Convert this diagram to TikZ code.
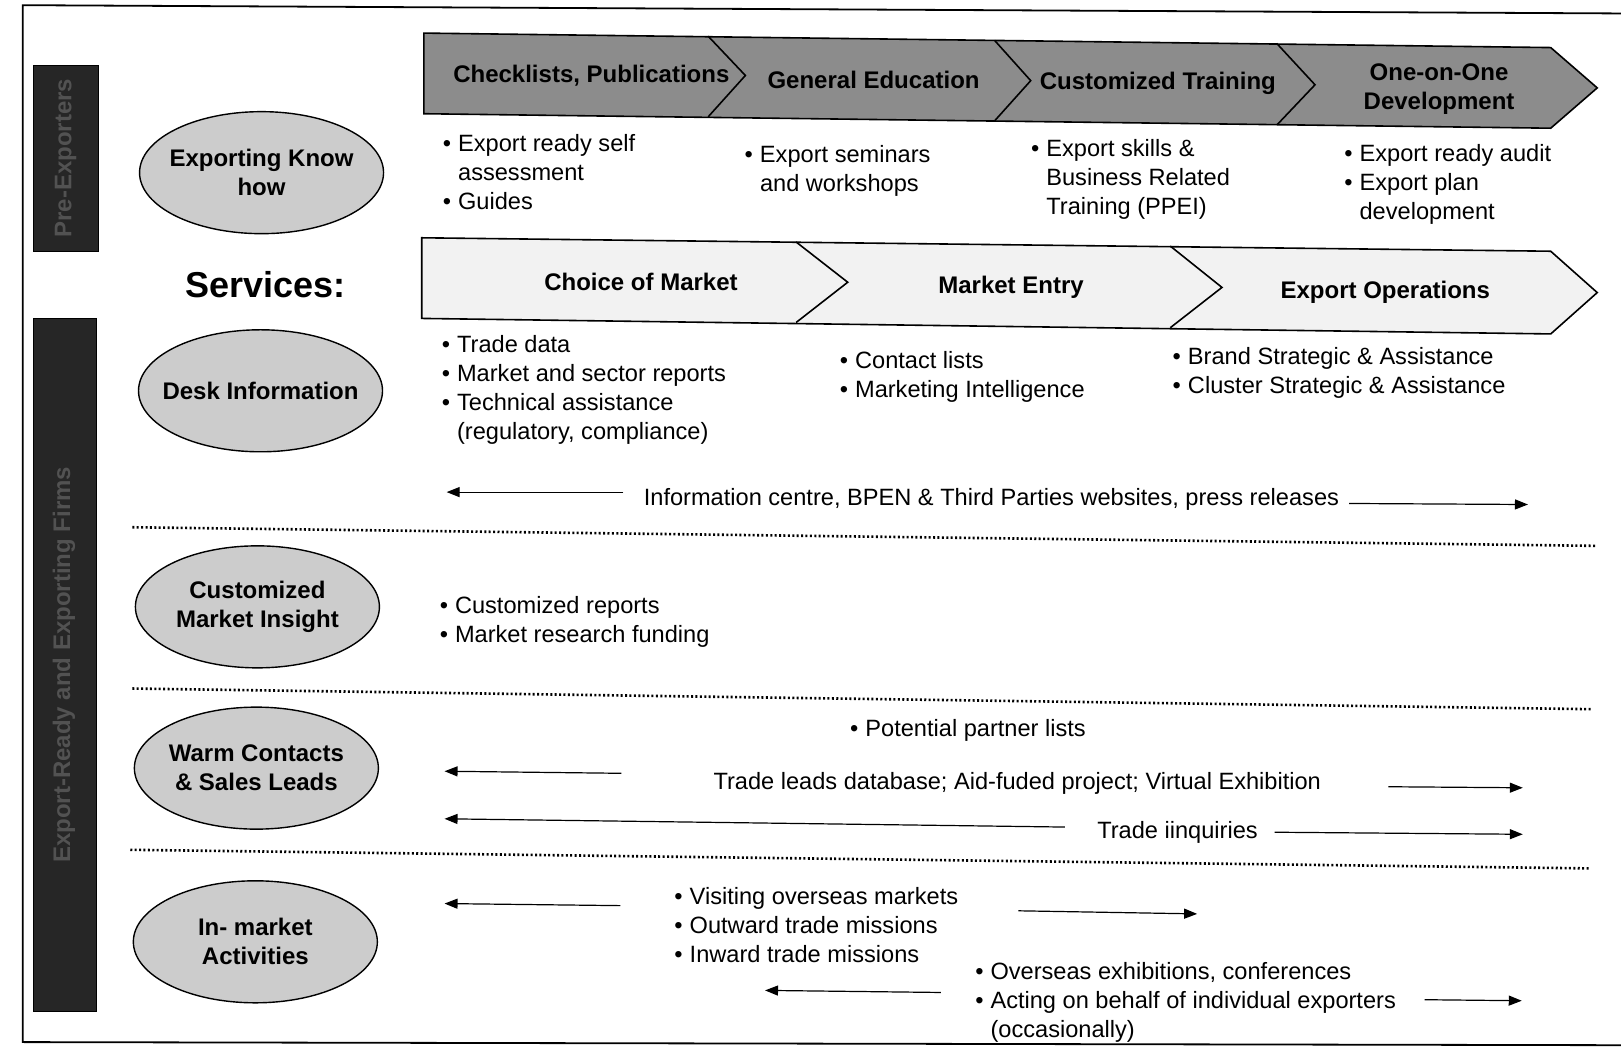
\documentclass[tikz,border=0pt]{standalone}
\usepackage{fontspec}
\setmainfont{Liberation Sans}
\usetikzlibrary{arrows.meta,shapes.geometric}

\tikzset{
	txt/.style={font=\fontsize{11.8}{14.5}\selectfont},
	stage/.style={font=\fontsize{12}{14.5}\selectfont\bfseries, align=center},
	service/.style={ellipse, draw, line width=0.7pt, fill=black!20, minimum width=122pt,
		minimum height=61pt, inner xsep=-6pt, align=center,
		font=\fontsize{12}{14.5}\selectfont\bfseries},
	bullets/.style={anchor=base west, inner sep=0pt, font=\fontsize{11.8}{14.5}\selectfont},
	flow/.style={-{Triangle[length=6.5pt,width=5pt]}, line width=0.6pt},
	sepline/.style={line width=1.3pt, dash pattern=on 1pt off 1.2pt},
	band/.style={draw, line width=0.8pt, line join=miter},
	bar/.style={draw, fill=black!85},
	bartext/.style={rotate=90, text=black!68, font=\fontsize{12}{14.5}\selectfont\bfseries}
}

\begin{document}
\begin{tikzpicture}[x=0.5169pt, y=-0.5169pt]
	\useasboundingbox (0,0) rectangle (1568,1020);

	% frame
	\draw[line width=0.9pt] (1568,13) -- (22,5) -- (22,1008) -- (1568,1011);

	% left bars
	\draw[bar] (32,63) rectangle (95,243);
	\node[bartext] (prebar) at (63.5,153) {Pre-Exporters};
	\draw[bar] (32,308) rectangle (93,978);
	\node[bartext] (readybar) at (62,643) {Export-Ready and Exporting Firms};

	% top band
	\draw[band, fill=black!45] (410,32) -- (1500,46) -- (1545,85) -- (1500,124) -- (410,110) -- cycle;
	\draw[band] (685,35) -- (721,73) -- (685,113);
	\draw[band] (962,39) -- (997,78) -- (962,117);
	\draw[band] (1235,42) -- (1272,82) -- (1235,121);
	\node[stage] (checklists) at (572,73) {Checklists, Publications};
	\node[stage] (education) at (845,77) {General Education};
	\node[stage] (training) at (1120,81) {Customized Training};
	\node[stage] (oneonone) at (1392,86) {One-on-One\\Development};

	% second band
	\draw[band, fill=black!5] (408,230) -- (1500,243) -- (1545,283) -- (1500,323) -- (408,308) -- cycle;
	\draw[band] (770,234) -- (820,273) -- (770,312);
	\draw[band] (1132,238) -- (1182,278) -- (1132,317);
	\node[stage] (choice) at (620,273) {Choice of Market};
	\node[stage] (entry) at (978,278) {Market Entry};
	\node[stage] (operations) at (1340,283) {Export Operations};

	\node[font=\fontsize{18}{20}\selectfont\bfseries] (services) at (257,275) {Services:};

	% services
	\node[service] (knowhow) at (253,167) {Exporting Know\\how};
	\node[service] (desk) at (252,378) {Desk Information};
	\node[service] (insight) at (249,587) {Customized\\Market Insight};
	\node[service] (contacts) at (248,743) {Warm Contacts\\\& Sales Leads};
	\node[service] (inmarket) at (247,911) {In- market\\Activities};

	% separators
	\draw[sepline] (128,510) -- (1543,528);
	\draw[sepline] (128,666) -- (1540,686);
	\draw[sepline] (126,822) -- (1538,840);

	% lists, top row
	\node[bullets] (selfcheck) at (428,147) {\begin{tabular}[t]{@{}l@{\hspace{3.5pt}}l@{}}
		\textbullet & Export ready self\\ & assessment\\ \textbullet & Guides\end{tabular}};
	\node[bullets] (seminars) at (720,157) {\begin{tabular}[t]{@{}l@{\hspace{3.5pt}}l@{}}
		\textbullet & Export seminars\\ & and workshops\end{tabular}};
	\node[bullets] (skills) at (997,151) {\begin{tabular}[t]{@{}l@{\hspace{3.5pt}}l@{}}
		\textbullet & Export skills \&\\ & Business Related\\ & Training (PPEI)\end{tabular}};
	\node[bullets] (audit) at (1300,156) {\begin{tabular}[t]{@{}l@{\hspace{3.5pt}}l@{}}
		\textbullet & Export ready audit\\ \textbullet & Export plan\\ & development\end{tabular}};

	% lists, desk information
	\node[bullets] (tradedata) at (427,341) {\begin{tabular}[t]{@{}l@{\hspace{3.5pt}}l@{}}
		\textbullet & Trade data\\ \textbullet & Market and sector reports\\
		\textbullet & Technical assistance\\ & (regulatory, compliance)\end{tabular}};
	\node[bullets] (contactlists) at (812,356) {\begin{tabular}[t]{@{}l@{\hspace{3.5pt}}l@{}}
		\textbullet & Contact lists\\ \textbullet & Marketing Intelligence\end{tabular}};
	\node[bullets] (brand) at (1134,353) {\begin{tabular}[t]{@{}l@{\hspace{3.5pt}}l@{}}
		\textbullet & Brand Strategic \& Assistance\\ \textbullet & Cluster Strategic \& Assistance\end{tabular}};

	\node[txt] (infocentre) at (959,483) {Information centre, BPEN \& Third Parties websites, press releases};
	\coordinate (i1) at (603,476);
	\coordinate (i2) at (432,476);
	\coordinate (i3) at (1305,487);
	\coordinate (i4) at (1478,488);
	\draw[flow] (i1) -- (i2);
	\draw[flow] (i3) -- (i4);

	% lists, market insight
	\node[bullets] (reports) at (425,593) {\begin{tabular}[t]{@{}l@{\hspace{3.5pt}}l@{}}
		\textbullet & Customized reports\\ \textbullet & Market research funding\end{tabular}};

	% lists, warm contacts
	\node[bullets] (partners) at (822,712) {\begin{tabular}[t]{@{}l@{\hspace{3.5pt}}l@{}}
		\textbullet & Potential partner lists\end{tabular}};
	\node[txt] (leads) at (984,758) {Trade leads database; Aid-fuded project; Virtual Exhibition};
	\node[txt] (inquiries) at (1139,805) {Trade iinquiries};
	\coordinate (w1) at (601,748);
	\coordinate (w2) at (430,746);
	\coordinate (w3) at (1343,761);
	\coordinate (w4) at (1473,762);
	\coordinate (w5) at (1030,800);
	\coordinate (w6) at (430,792);
	\coordinate (w7) at (1233,805);
	\coordinate (w8) at (1473,807);
	\draw[flow] (w1) -- (w2);
	\draw[flow] (w3) -- (w4);
	\draw[flow] (w5) -- (w6);
	\draw[flow] (w7) -- (w8);

	% lists, in-market
	\node[bullets] (visits) at (652,875) {\begin{tabular}[t]{@{}l@{\hspace{3.5pt}}l@{}}
		\textbullet & Visiting overseas markets\\ \textbullet & Outward trade missions\\
		\textbullet & Inward trade missions\end{tabular}};
	\node[bullets] (exhibitions) at (943,947) {\begin{tabular}[t]{@{}l@{\hspace{3.5pt}}l@{}}
		\textbullet & Overseas exhibitions, conferences\\
		\textbullet & Acting on behalf of individual exporters\\ & (occasionally)\end{tabular}};
	\coordinate (m1) at (600,876);
	\coordinate (m2) at (430,874);
	\coordinate (m3) at (985,881);
	\coordinate (m4) at (1158,884);
	\coordinate (m5) at (910,960);
	\coordinate (m6) at (740,958);
	\coordinate (m7) at (1378,967);
	\coordinate (m8) at (1472,968);
	\draw[flow] (m1) -- (m2);
	\draw[flow] (m3) -- (m4);
	\draw[flow] (m5) -- (m6);
	\draw[flow] (m7) -- (m8);
\end{tikzpicture}
\end{document}
